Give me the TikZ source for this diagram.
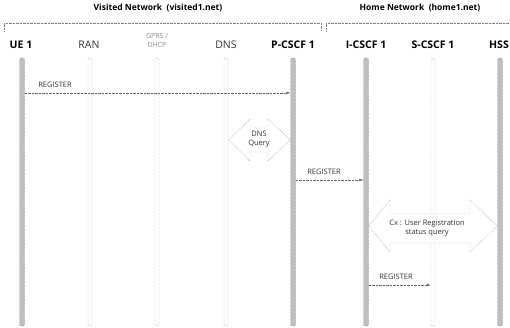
\documentclass[tikz,border=0pt]{standalone}
\usepackage{fontspec}
\setmainfont{Open Sans}
\usetikzlibrary{arrows.meta, calc, positioning}

\begin{document}
\begin{tikzpicture}[
    x=1pt, y=-1pt,
    >={Latex[length=4pt,width=3pt]},
    lifeon/.style  ={draw=black!70, densely dotted, fill=black!25, rounded corners=2pt,
                     minimum width=5pt, minimum height=268pt, inner sep=0pt},
    lifeoff/.style ={draw=black!55, densely dotted, fill=white, rounded corners=2pt,
                     minimum width=4pt, minimum height=268pt, inner sep=0pt},
    actor/.style   ={font=\fontsize{10.5}{12}\selectfont\bfseries, inner sep=0pt},
    plain/.style   ={font=\fontsize{10.5}{12}\selectfont, text=black!80, inner sep=0pt},
    netname/.style ={font=\fontsize{8.5}{10}\selectfont\bfseries, inner sep=0pt},
    bracket/.style ={draw=black!50, densely dotted},
    msg/.style     ={->, draw=black!60, densely dotted},
    msglabel/.style={font=\fontsize{7.5}{9}\selectfont, text=black!80, inner sep=0pt, align=center},
    query/.style   ={draw=black!55, densely dotted, fill=white},
]
\useasboundingbox (0,0) rectangle (510,328);

% networks
\node[netname] (visited) at (158,8) {Visited Network\ \ (visited1.net)};
\node[netname] (home)    at (420,8) {Home Network\ \ (home1.net)};
\draw[bracket] (4,31) -- (4,23) -- (321,23) -- (321,31);
\draw[bracket] (326,31) -- (326,23) -- (510,23);

% participants
\node[actor] (ue)   at (21,45)  {UE 1};
\node[plain] (ran)  at (89,45)  {RAN};
\node[msglabel, text=black!45, font=\fontsize{7}{9}\selectfont] (gprs) at (157,41) {GPRS /\\DHCP};
\node[plain] (dns)  at (226,45) {DNS};
\node[actor] (pc)   at (293,45) {P-CSCF 1};
\node[actor] (ic)   at (366,45) {I-CSCF 1};
\node[actor] (sc)   at (433,45) {S-CSCF 1};
\node[actor] (hss)  at (499,45) {HSS};

% lifelines
\node[lifeon]  (ueL)   at (22,192)  {};
\node[lifeoff] (ranL)  at (90,192)  {};
\node[lifeoff] (gprsL) at (157,192) {};
\node[lifeoff] (dnsL)  at (226,192) {};
\node[lifeon]  (pcL)   at (293,192) {};
\node[lifeon]  (icL)   at (366,192) {};
\node[lifeoff] (scL)   at (433,192) {};
\node[lifeon]  (hssL)  at (500,192) {};

% messages
\draw[msg] (ueL.east |- 0,93) -- (pcL.west |- 0,93);
\node[msglabel] (reg1) at (55,85) {REGISTER};

\draw[query] (dnsL.east |- 0,140) -- (250,119) -- (250,127) -- (268,127) -- (268,119)
    -- (pcL.west |- 0,140) -- (268,161) -- (268,152) -- (250,152) -- (250,161) -- cycle;
\node[msglabel] (dnsq) at (259,139) {DNS\\Query};

\draw[msg] (pcL.east |- 0,180) -- (icL.west |- 0,180);
\node[msglabel] (reg2) at (324,172) {REGISTER};

\draw[query] (icL.east |- 0,226) -- (390,200) -- (390,214) -- (470,214) -- (470,200)
    -- (hssL.west |- 0,226) -- (470,252) -- (470,243) -- (390,243) -- (390,252) -- cycle;
\node[msglabel] (cx) at (427,228) {Cx : User Registration\\status query};

\draw[msg] (icL.east |- 0,285) -- (scL.west |- 0,285);
\node[msglabel] (reg3) at (396,277) {REGISTER};
\end{tikzpicture}
\end{document}
